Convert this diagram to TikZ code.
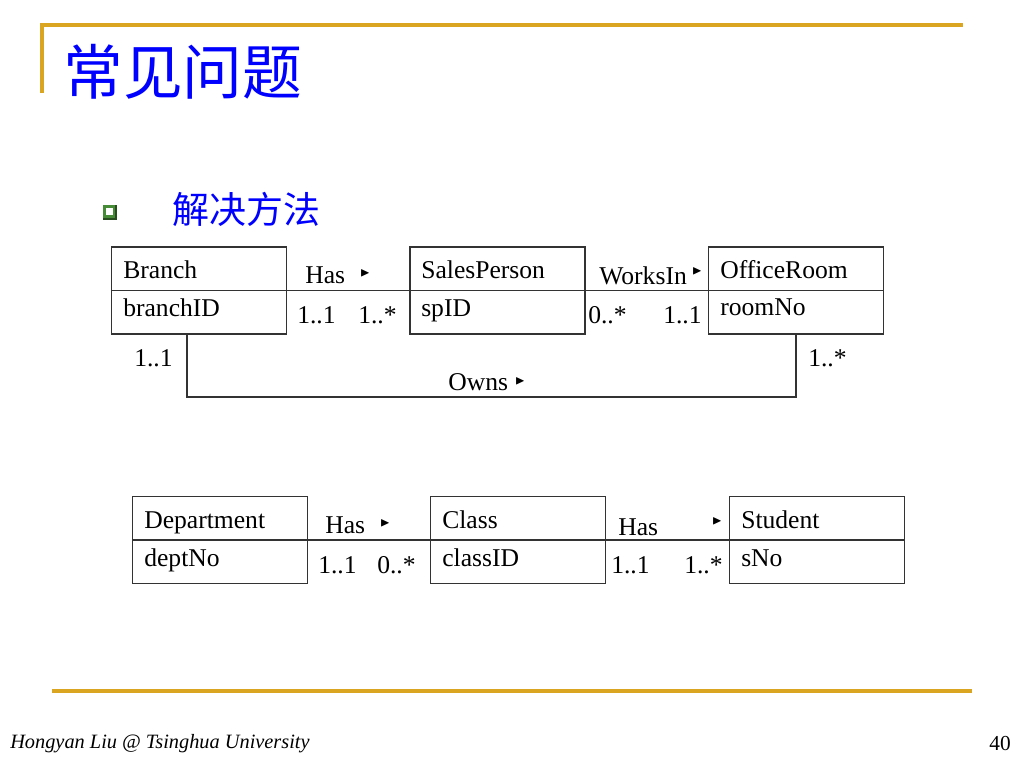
\documentclass[tikz,border=0pt]{standalone}
\usepackage{fontspec}
\usepackage{amssymb}
\setmainfont{Liberation Serif}
\newfontfamily\cjk{Noto Sans CJK SC}
\usetikzlibrary{positioning}
\definecolor{slidegold}{RGB}{218,165,32}
\definecolor{titleblue}{RGB}{0,0,255}
\definecolor{bulletgreen}{RGB}{70,140,55}

\begin{document}
\begin{tikzpicture}[x=0.703pt,y=-0.703pt,
    entity/.style={draw=black!80,line width=0.9pt,minimum width=123pt,minimum height=61pt,inner sep=0pt},
    lbl/.style={anchor=base west,inner sep=0pt,font=\fontsize{18}{20}\selectfont},
    tri/.style={anchor=center,inner sep=0pt,font=\fontsize{9}{9}\selectfont},
    link/.style={draw=black!80,line width=0.9pt}]
    \useasboundingbox (0,0) rectangle (1024,768);
    % slide frame
    \draw[slidegold,line width=2.4pt] (42,93) -- (42,25) -- (963,25);
    \draw[slidegold,line width=2.4pt] (52,691) -- (972,691);
    \node[anchor=west,inner sep=0pt,text=titleblue,font=\cjk\fontsize{42}{48}\selectfont] (title) at (63,72) {常见问题};
    \fill[bulletgreen!55!black] (103,205) rectangle (117,220);
    \fill[bulletgreen] (103,205) rectangle (115,218);
    \fill[white] (106,208) rectangle (112.5,215);
    \node[anchor=west,inner sep=0pt,text=titleblue,font=\cjk\fontsize{26}{30}\selectfont] (sub) at (172,209) {解决方法};
    % upper diagram
    \node[entity] (branch) at (199,290.5) {};
    \node[entity] (sales)  at (497.5,290.5) {};
    \node[entity] (office) at (796,290.5) {};
    \foreach \e in {branch,sales,office}
        \draw[link] (\e.west) -- (\e.east);
    \node[lbl] (branchN) at (123,278) {Branch};
    \node[lbl] (branchA) at (123,316) {branchID};
    \node[lbl] (salesN)  at (421,278) {SalesPerson};
    \node[lbl] (salesA)  at (421,316) {spID};
    \node[lbl] (officeN) at (720,278) {OfficeRoom};
    \node[lbl] (officeA) at (720,315) {roomNo};
    \draw[link] (branch.east) -- (sales.west);
    \draw[link] (sales.east) -- (office.west);
    \coordinate (owns) at (500,397);
    \draw[link] ([xshift=-8.4pt]branch.south) |- (owns) -| (office.south);
    \node[lbl] (has1) at (305,283) {Has};
    \node[tri] (has1t) at (365,273) {$\blacktriangleright$};
    \node[lbl] at (297,323) {1..1};
    \node[lbl] at (358,323) {1..*};
    \node[lbl] (works) at (599,284) {WorksIn};
    \node[tri] (workst) at (697,271) {$\blacktriangleright$};
    \node[lbl] at (588,323) {0..*};
    \node[lbl] at (663,323) {1..1};
    \node[lbl] at (134,366) {1..1};
    \node[lbl] at (808,366) {1..*};
    \node[lbl] (ownsL) at (448,390) {Owns};
    \node[tri] (ownst) at (520,381) {$\blacktriangleright$};
    % lower diagram
    \node[entity] (dept)    at (220,540) {};
    \node[entity] (class)   at (518,540) {};
    \node[entity] (student) at (817,540) {};
    \foreach \e in {dept,class,student}
        \draw[link] (\e.west) -- (\e.east);
    \node[lbl] (deptN)    at (144,528) {Department};
    \node[lbl] (deptA)    at (144,566) {deptNo};
    \node[lbl] (classN)   at (442,528) {Class};
    \node[lbl] (classA)   at (442,566) {classID};
    \node[lbl] (studentN) at (741,528) {Student};
    \node[lbl] (studentA) at (741,566) {sNo};
    \draw[link] (dept.east) -- (class.west);
    \draw[link] (class.east) -- (student.west);
    \node[lbl] (has2) at (325,533) {Has};
    \node[tri] (has2t) at (385,523) {$\blacktriangleright$};
    \node[lbl] at (318,573) {1..1};
    \node[lbl] at (377,573) {0..*};
    \node[lbl] (has3) at (618,535) {Has};
    \node[tri] (has3t) at (717,521) {$\blacktriangleright$};
    \node[lbl] at (611,573) {1..1};
    \node[lbl] at (684,573) {1..*};
    % footer
    \node[anchor=west,inner sep=0pt,font=\itshape\fontsize{14.3}{17}\selectfont] (foot) at (10,744) {Hongyan Liu @ Tsinghua University};
    \node[anchor=east,inner sep=0pt,font=\fontsize{15}{18}\selectfont] (page) at (1011,744) {40};
\end{tikzpicture}
\end{document}
